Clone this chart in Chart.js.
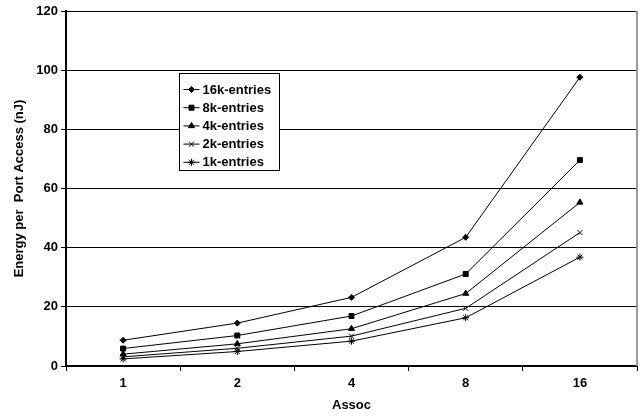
<!DOCTYPE html>
<html>
<head>
<meta charset="utf-8">
<script src="https://cdn.jsdelivr.net/npm/chart.js@4/dist/chart.umd.min.js"></script>
<style>
    html, body { margin: 0; padding: 0; background: #fff; }
    #wrap { width: 642px; height: 418px; position: relative; }
</style>
</head>
<body>
<div id="wrap"><canvas id="energyChart"></canvas></div>
<script>
// Chart data
const assocLabels = ['1', '2', '4', '8', '16'];
const seriesNames = ['16k-entries', '8k-entries', '4k-entries', '2k-entries', '1k-entries'];
const energy16k = [8.7, 14.5, 23.2, 43.5, 97.6];
const energy8k = [5.9, 10.3, 16.9, 31.1, 69.6];
const energy4k = [4.0, 7.5, 12.6, 24.5, 55.3];
const energy2k = [3.1, 6.0, 10.1, 19.5, 45.1];
const energy1k = [2.4, 4.9, 8.4, 16.3, 36.8];
const yTicks = [0, 20, 40, 60, 80, 100, 120];

const FONT = "'Liberation Sans', Arial, sans-serif";
const markerStyles = ['rectRot', 'rect', 'triangle', 'crossRot', 'star'];
const markerSizes = [3, 3.5, 3.5, 3.5, 3.5];

function makeDataset(i, values) {
    return {
        label: seriesNames[i],
        data: values,
        borderColor: '#000',
        backgroundColor: '#000',
        borderWidth: 1,
        pointStyle: markerStyles[i],
        pointRadius: markerSizes[i],
        pointBorderColor: '#000',
        pointBackgroundColor: '#000',
        pointBorderWidth: 1,
        tension: 0,
        fill: false
    };
}

/**
 * Boxed legend drawn inside the plot, plus the grey right border
 */
const boxLegend = {
    id: 'boxLegend',
    afterDraw(chart) {
        const ctx = chart.ctx;
        const area = chart.chartArea;

        // right border of plot
        ctx.save();
        ctx.strokeStyle = '#999';
        ctx.lineWidth = 2;
        ctx.beginPath();
        ctx.moveTo(area.right, area.top);
        ctx.lineTo(area.right, area.bottom);
        ctx.stroke();
        ctx.restore();

        const bx = 179.5, by = 73.5, bw = 100, bh = 97, rowH = 18.2;
        ctx.save();
        ctx.fillStyle = '#fff';
        ctx.fillRect(bx, by, bw, bh);
        ctx.strokeStyle = '#000';
        ctx.lineWidth = 1;
        ctx.strokeRect(bx, by, bw, bh);

        ctx.font = 'bold 13px ' + FONT;
        ctx.textBaseline = 'middle';
        ctx.textAlign = 'left';
        chart.data.datasets.forEach((ds, i) => {
            const y = by + 16 + i * rowH;
            ctx.strokeStyle = '#000';
            ctx.lineWidth = 1;
            ctx.beginPath();
            ctx.moveTo(bx + 4, y);
            ctx.lineTo(bx + 20, y);
            ctx.stroke();
            ctx.fillStyle = '#000';
            if (Chart.helpers && Chart.helpers.drawPoint) {
                Chart.helpers.drawPoint(ctx, {
                    pointStyle: ds.pointStyle,
                    radius: ds.pointRadius,
                    rotation: 0,
                    borderWidth: 1
                }, bx + 12, y);
            }
            ctx.fillStyle = '#000';
            ctx.fillText(ds.label, bx + 23, y + 0.5);
        });
        ctx.restore();
    }
};

function initEnergyChart() {
    const canvas = document.getElementById('energyChart');
    canvas.width = 642;
    canvas.height = 418;

    new Chart(canvas.getContext('2d'), {
        type: 'line',
        data: {
            labels: assocLabels,
            datasets: [
                makeDataset(0, energy16k),
                makeDataset(1, energy8k),
                makeDataset(2, energy4k),
                makeDataset(3, energy2k),
                makeDataset(4, energy1k)
            ]
        },
        options: {
            responsive: false,
            animation: false,
            devicePixelRatio: 1,
            layout: {
                padding: { left: 0, right: 5, top: 11, bottom: 0 }
            },
            plugins: {
                legend: { display: false },
                tooltip: { enabled: false }
            },
            scales: {
                x: {
                    type: 'category',
                    offset: true,
                    grid: {
                        offset: true,
                        drawOnChartArea: false,
                        drawTicks: true,
                        tickLength: 5,
                        color: '#000',
                        lineWidth: 1
                    },
                    border: { color: '#000', width: 2 },
                    ticks: {
                        color: '#000',
                        padding: 5,
                        font: { family: FONT, size: 13, weight: 'bold' }
                    },
                    title: {
                        display: true,
                        text: 'Assoc',
                        color: '#000',
                        padding: { top: 0, bottom: 5 },
                        font: { family: FONT, size: 13, weight: 'bold' }
                    },
                    afterFit(scale) { scale.height = 52; }
                },
                y: {
                    min: 0,
                    max: 120,
                    afterBuildTicks(scale) {
                        scale.ticks = yTicks.map(v => ({ value: v }));
                    },
                    grid: {
                        color: '#000',
                        lineWidth: 1,
                        tickLength: 5
                    },
                    border: { color: '#000', width: 2 },
                    ticks: {
                        color: '#000',
                        padding: 3,
                        font: { family: FONT, size: 13, weight: 'bold' }
                    },
                    title: {
                        display: true,
                        text: 'Energy per  Port Access (nJ)',
                        color: '#000',
                        padding: { top: 12, bottom: 0 },
                        font: { family: FONT, size: 13, weight: 'bold' }
                    },
                    afterFit(scale) { scale.width = 66; }
                }
            }
        },
        plugins: [boxLegend]
    });
}

document.addEventListener('DOMContentLoaded', initEnergyChart);
</script>
</body>
</html>
